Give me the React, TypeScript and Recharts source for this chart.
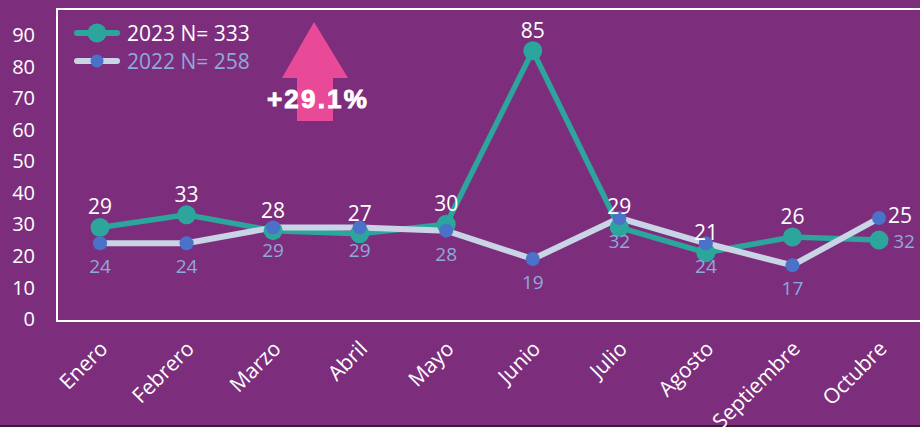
import { LineChart, Line, XAxis, YAxis, LabelList } from "recharts";

const months = ["Enero", "Febrero", "Marzo", "Abril", "Mayo", "Junio", "Julio", "Agosto", "Septiembre", "Octubre"];
const values2023 = [29, 33, 28, 27, 30, 85, 29, 21, 26, 25];
const values2022 = [24, 24, 29, 29, 28, 19, 32, 24, 17, 32];
const yTicks = [0, 10, 20, 30, 40, 50, 60, 70, 80, 90];
const seriesNames = ["2023 N= 333", "2022 N= 258"];

const data = months.map((m, i) => ({ month: m, y2023: values2023[i], y2022: values2022[i] }));

const BG = "#7C2E7C";
const TEAL = "#2CA59C";
const LIGHT = "#C9D4E6";
const BLUE = "#4A72C8";
const LABEL_BLUE = "#8EA9DB";
const FONT = "'Open Sans', Lato, sans-serif";

function XTick({ x, y, payload }: any) {
  return (
    <g transform={`translate(${x + 9},${y + 23})`}>
      <text textAnchor="end" transform="rotate(-45)" fill="#fff" fontSize={21} fontFamily={FONT}>
        {payload.value}
      </text>
    </g>
  );
}

function Label2023(p: any) {
  const { x, y, value, index } = p;
  const last = index === months.length - 1;
  return (
    <text x={x + (last ? 21 : 0)} y={y - (last ? 17 : 13)} textAnchor="middle" fill="#fff" fontSize={21} fontFamily={FONT}>
      {value}
    </text>
  );
}

function Label2022(p: any) {
  const { x, y, value, index } = p;
  const last = index === months.length - 1;
  return (
    <text x={x + (last ? 25 : 0)} y={y + 30} textAnchor="middle" fill={LABEL_BLUE} fontSize={19} fontFamily={FONT}>
      {value}
    </text>
  );
}

function LegendBox() {
  return (
    <div style={{ position: "absolute", left: 73, top: 19, fontFamily: FONT, fontSize: 21, lineHeight: "28px" }}>
      {seriesNames.map((name, i) => (
        <div key={name} style={{ display: "flex", alignItems: "center" }}>
          <svg width={48} height={22} style={{ marginRight: 6 }}>
            <line x1={4} y1={11} x2={44} y2={11} stroke={i === 0 ? TEAL : LIGHT} strokeWidth={6} strokeLinecap="round" />
            <circle cx={24} cy={11} r={i === 0 ? 9.5 : 6.5} fill={i === 0 ? TEAL : BLUE} />
          </svg>
          <span style={{ color: i === 0 ? "#fff" : LABEL_BLUE }}>{name}</span>
        </div>
      ))}
    </div>
  );
}

export default function App() {
  return (
    <div style={{ position: "absolute", left: 0, top: 0, width: 920, height: 427, background: BG, overflow: "hidden" }}>
      <div style={{ position: "absolute", left: 56, top: 8, width: 900, height: 310, border: "2px solid #fff" }} />
      <svg width={920} height={427} style={{ position: "absolute", left: 0, top: 0 }}>
        <polygon points="314,22 282,78 297,78 297,121 333,121 333,78 348,78" fill="#E84A98" />
        <text x={318} y={108} textAnchor="middle" fill="#fff" stroke="#fff" strokeWidth={0.9} fontSize={26} fontWeight="bold" letterSpacing={2.2} fontFamily="'Liberation Sans', Arial, sans-serif">
          +29.1%
        </text>
      </svg>
      <div style={{ position: "absolute", left: 0, top: 425, width: 920, height: 2, background: "#3A1C3A" }} />
      <LegendBox />
      <div style={{ position: "absolute", left: 0, top: 0 }}>
        <LineChart width={920} height={427} data={data} margin={{ top: 35, right: 0, left: 0, bottom: 0 }}>
          <XAxis dataKey="month" height={108} padding={{ left: 43, right: 41 }} axisLine={false} tickLine={false} tick={<XTick />} interval={0} />
          <YAxis width={57} domain={[0, 90]} ticks={yTicks} interval={0} axisLine={false} tickLine={false} tickSize={0} tickMargin={22}
            tick={{ fill: "#fff", fontSize: 20, fontFamily: FONT }} />
          <Line type="linear" dataKey="y2023" name={seriesNames[0]} stroke={TEAL} strokeWidth={5.5}
            dot={{ r: 9.5, fill: TEAL, stroke: "none" }} activeDot={false} isAnimationActive={false}>
            <LabelList dataKey="y2023" content={<Label2023 />} />
          </Line>
          <Line type="linear" dataKey="y2022" name={seriesNames[1]} stroke={LIGHT} strokeWidth={6}
            dot={{ r: 7, fill: BLUE, stroke: "none" }} activeDot={false} isAnimationActive={false}>
            <LabelList dataKey="y2022" content={<Label2022 />} />
          </Line>
        </LineChart>
      </div>
    </div>
  );
}
